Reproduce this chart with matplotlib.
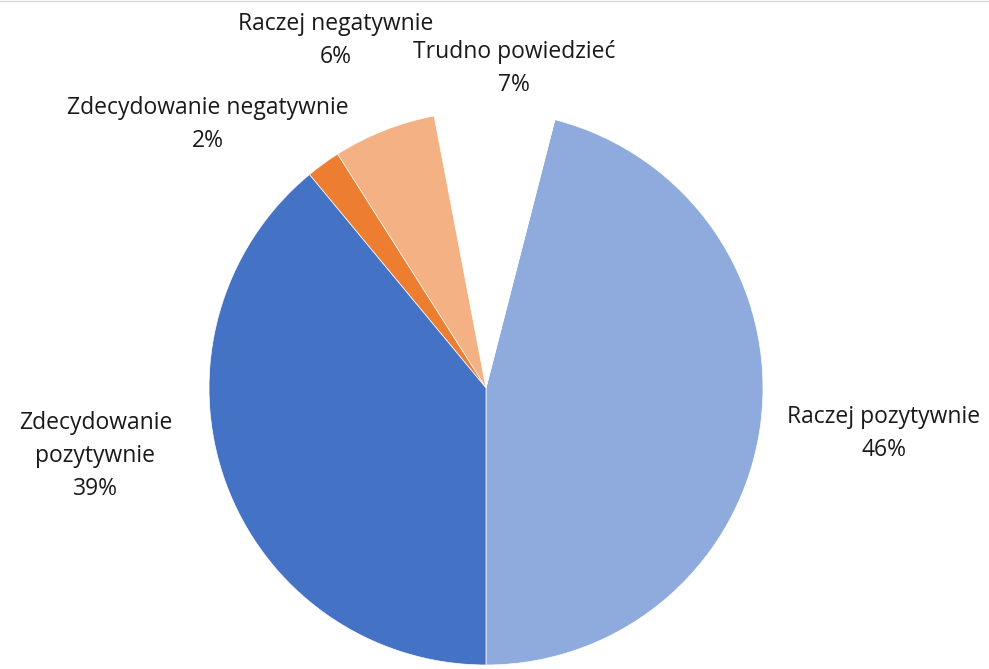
import matplotlib
matplotlib.use("Agg")
from matplotlib import pyplot as plt

categories = ["Raczej pozytywnie", "Trudno powiedzieć", "Raczej negatywnie",
              "Zdecydowanie negatywnie", "Zdecydowanie\npozytywnie"]
shares = [46, 7, 6, 2, 39]
colors = ["#8FAADC", "#FFFFFF", "#F4B183", "#ED7D31", "#4472C4"]

# label centres, in pie-radius units (placed by hand to follow the original)
label_xy = [(1.437, -0.165), (0.101, 1.155), (-0.542, 1.256),
            (-1.004, 0.95), (-1.41, -0.245)]

plt.rcParams['font.family'] = ['Open Sans', 'DejaVu Sans']

fig = plt.figure(figsize=(9.89, 6.69), dpi=100)
ax = fig.add_axes([0, 0, 1, 1])

wedges, texts = ax.pie(shares, colors=colors, startangle=-90, counterclock=True,
                       labels=[f"{c}\n{s}%" for c, s in zip(categories, shares)],
                       wedgeprops=dict(linewidth=0.5, edgecolor="white"),
                       textprops=dict(fontsize=16.5, color="#1a1a1a"))

for t, (x, y) in zip(texts, label_xy):
    t.set_position((x, y))
    t.set_ha("center")
    t.set_va("center")
    t.set_multialignment("center")
    t.set_linespacing(1.5)

ax.set_aspect("equal")
ax.set_xlim(-486 / 277, (989 - 486) / 277)
ax.set_ylim(-(669 - 388) / 277, 388 / 277)
ax.axis("off")

# thin grey rule at the very top like the screenshot
fig.add_artist(plt.Line2D([0, 1], [0.998, 0.998], color="#d9d9d9", linewidth=1))

fig.savefig("out.png", dpi=100)
